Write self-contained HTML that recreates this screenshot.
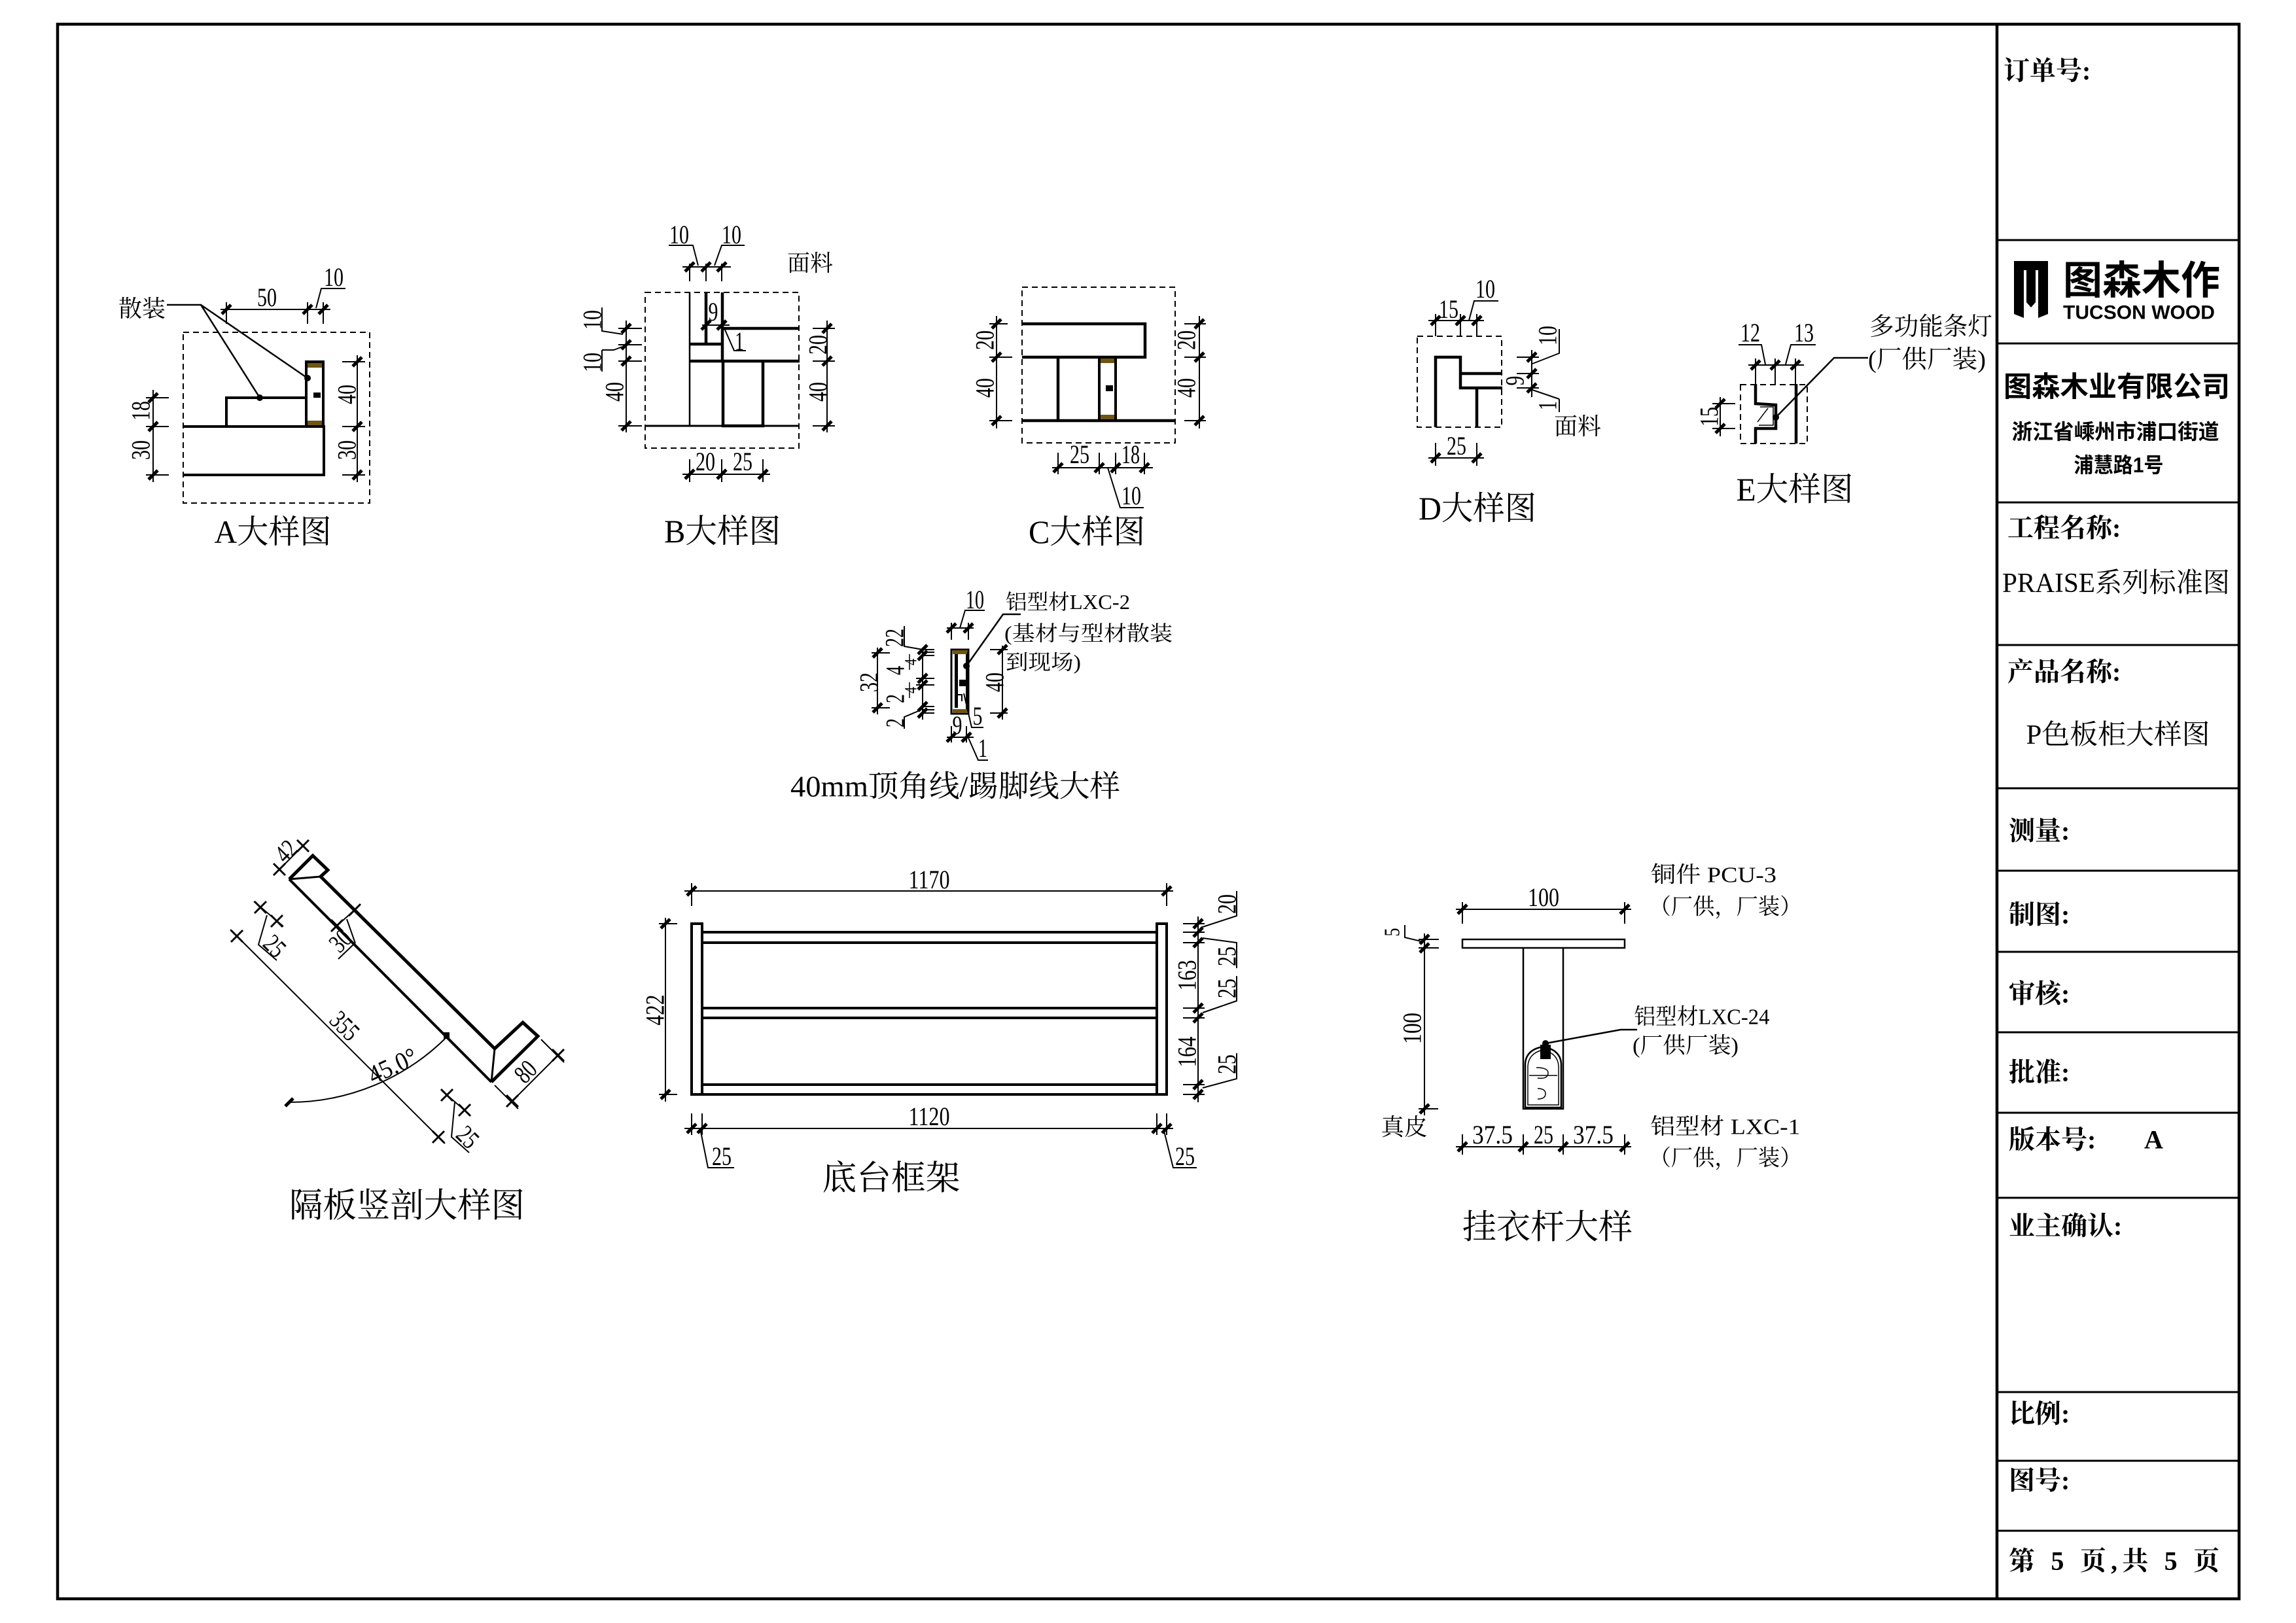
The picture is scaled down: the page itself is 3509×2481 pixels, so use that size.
<!DOCTYPE html>
<html><head><meta charset="utf-8"><style>
html,body{margin:0;padding:0;background:#fff}
svg{display:block}
text{font-family:"Liberation Serif","Noto Serif CJK SC",serif;fill:#000}
.n{font-size:40px}
.s{font-size:34px}
.t{font-size:50px}
.tb{font-family:"Liberation Serif","Noto Serif CJK SC",serif;font-weight:700;font-size:40px}
.hs{font-family:"Liberation Sans","Noto Sans CJK SC",sans-serif;font-weight:700}
</style></head><body>
<svg width="3509" height="2481" viewBox="0 0 3509 2481" xmlns="http://www.w3.org/2000/svg">
<defs>
<path id="tk" d="M-7 7L7-7" stroke="#000" stroke-width="5"/>
<path id="tx" d="M-9-9L9 9M-9 9L9-9" stroke="#000" stroke-width="3"/>
</defs>
<rect width="3509" height="2481" fill="#fff"/>

<!-- ===== Frame & title block ===== -->
<g fill="none" stroke="#000">
<rect x="88" y="37" width="3334" height="2407" stroke-width="4.5"/>
<path d="M3052 37V2444" stroke-width="4.5"/>
<path d="M3052 367H3422M3052 525H3422M3052 768H3422M3052 986H3422M3052 1205H3422M3052 1331H3422M3052 1455H3422M3052 1578H3422M3052 1701H3422M3052 1831H3422M3052 2128H3422M3052 2233H3422M3052 2340H3422" stroke-width="3"/>
</g>
<g dominant-baseline="central">
<text class="tb" x="3062" y="108">订单号:</text>
<!-- logo -->
<rect x="3078" y="399" width="52" height="14" fill="#000"/>
<path d="M3078 413H3093V486L3078 480Z" fill="#000"/>
<path d="M3115 413H3130V480L3115 486Z" fill="#000"/>
<path d="M3097 413H3111V462L3104 470L3097 462Z" fill="#000"/>
<text x="3153" y="429" class="hs" font-size="60" font-weight="900" textLength="240" lengthAdjust="spacingAndGlyphs">图森木作</text>
<text x="3153" y="478" class="hs" font-size="30" textLength="232" lengthAdjust="spacingAndGlyphs">TUCSON WOOD</text>
<text x="3235" y="592" class="hs" font-size="43" text-anchor="middle" textLength="346" lengthAdjust="spacingAndGlyphs">图森木业有限公司</text>
<text x="3233" y="660" class="hs" font-size="32" text-anchor="middle" textLength="317" lengthAdjust="spacingAndGlyphs">浙江省嵊州市浦口街道</text>
<text x="3238" y="711" class="hs" font-size="32" text-anchor="middle" textLength="137" lengthAdjust="spacingAndGlyphs">浦慧路1号</text>
<text class="tb" x="3068" y="807">工程名称:</text>
<text x="3234" y="892" font-size="42" text-anchor="middle" textLength="348" lengthAdjust="spacingAndGlyphs">PRAISE系列标准图</text>
<text class="tb" x="3068" y="1027">产品名称:</text>
<text x="3237" y="1124" font-size="42" text-anchor="middle" textLength="281" lengthAdjust="spacingAndGlyphs">P色板柜大样图</text>
<text class="tb" x="3070" y="1270">测量:</text>
<text class="tb" x="3070" y="1398">制图:</text>
<text class="tb" x="3070" y="1519">审核:</text>
<text class="tb" x="3070" y="1639">批准:</text>
<text class="tb" x="3070" y="1742">版本号:</text>
<text class="tb" x="3277" y="1742">A</text>
<text class="tb" x="3070" y="1874">业主确认:</text>
<text class="tb" x="3070" y="2161">比例:</text>
<text class="tb" x="3070" y="2263">图号:</text>
<text class="tb" x="3070" y="2386" textLength="322" lengthAdjust="spacing">第 5 页,共 5 页</text>
</g>

<!-- ===== A detail ===== -->
<g fill="none" stroke="#000">
<rect x="280" y="508" width="285" height="261" stroke-width="2" stroke-dasharray="9 6"/>
<path d="M281 652H495V726H281" stroke-width="4"/>
<path d="M346 652V608H468" stroke-width="4"/>
<rect x="468" y="553" width="26" height="99" stroke-width="4" fill="#fff"/>
<path d="M255 466H307L397 608M307 466L470 578" stroke-width="2.5"/>
<g stroke-width="2">
<path d="M337 473H505M346 462V495M470 462V495M494 462V495"/>
<path d="M483 471L491 441H528"/>
<path d="M234 596V737M223 608H258M223 652H258M223 726H258"/>
<path d="M546 543V737M523 553H558M523 652H558M523 726H558"/>
</g>
</g>
<rect x="470" y="555" width="22" height="7" fill="#6e5512"/>
<rect x="470" y="643" width="22" height="7" fill="#6e5512"/>
<rect x="479" y="600" width="11" height="8" fill="#000"/>
<circle cx="397" cy="608" r="5"/><circle cx="470" cy="578" r="5"/>
<use href="#tk" x="346" y="473"/><use href="#tk" x="470" y="473"/><use href="#tk" x="494" y="473"/>
<use href="#tk" x="234" y="608"/><use href="#tk" x="234" y="652"/><use href="#tk" x="234" y="726"/>
<use href="#tk" x="546" y="553"/><use href="#tk" x="546" y="652"/><use href="#tk" x="546" y="726"/>
<text x="217" y="472" font-size="36" text-anchor="middle" dominant-baseline="central">散装</text>
<text class="n" x="408" y="468" text-anchor="middle" textLength="30" lengthAdjust="spacingAndGlyphs">50</text>
<text class="n" x="510" y="437" text-anchor="middle" textLength="30" lengthAdjust="spacingAndGlyphs">10</text>
<g class="n" text-anchor="middle" dominant-baseline="central">
<text transform="translate(215 628) rotate(-90)" textLength="30" lengthAdjust="spacingAndGlyphs">18</text>
<text transform="translate(215 688) rotate(-90)" textLength="30" lengthAdjust="spacingAndGlyphs">30</text>
<text transform="translate(530 603) rotate(-90)" textLength="30" lengthAdjust="spacingAndGlyphs">40</text>
<text transform="translate(530 688) rotate(-90)" textLength="30" lengthAdjust="spacingAndGlyphs">30</text>
</g>
<text class="t" x="417" y="813" text-anchor="middle" dominant-baseline="central" textLength="179" lengthAdjust="spacingAndGlyphs">A大样图</text>

<!-- ===== B detail ===== -->
<g fill="none" stroke="#000">
<rect x="986" y="447" width="235" height="238" stroke-width="2" stroke-dasharray="9 6"/>
<path d="M1105 502H1222M1054 552H1222" stroke-width="4.5"/>
<path d="M1079 447V526M1104 447V552M1054 526H1104" stroke-width="4.5"/>
<path d="M986 651H1222" stroke-width="3"/>
<path d="M1054 447V651" stroke-width="2.5"/>
<path d="M1105 552V651H1166V552" stroke-width="4.5"/>
<g stroke-width="2">
<path d="M1043 408H1117M1054 403V430M1079 403V430M1103 403V430"/>
<path d="M1022 375H1059L1067 406M1138 375H1103L1092 406"/>
<path d="M1073 497H1115"/>
<path d="M1107 502L1122 536H1140"/>
<path d="M957 490V661M945 502H981M945 527H981M945 552H981M945 651H981"/>
<path d="M920 470V506L952 511M920 535V568M920 535H938L954 529"/>
<path d="M1264 490V661M1242 502H1276M1242 552H1276M1242 651H1276"/>
<path d="M1043 725H1177M1054 702V737M1103 702V737M1166 702V737"/>
</g>
</g>
<use href="#tk" x="1054" y="408"/><use href="#tk" x="1079" y="408"/><use href="#tk" x="1103" y="408"/>
<use href="#tk" x="1079" y="497"/><use href="#tk" x="1103" y="497"/>
<use href="#tk" x="957" y="502"/><use href="#tk" x="957" y="527"/><use href="#tk" x="957" y="552"/><use href="#tk" x="957" y="651"/>
<use href="#tk" x="1264" y="502"/><use href="#tk" x="1264" y="552"/><use href="#tk" x="1264" y="651"/>
<use href="#tk" x="1054" y="725"/><use href="#tk" x="1103" y="725"/><use href="#tk" x="1166" y="725"/>
<g class="n" text-anchor="middle">
<text x="1038" y="372" textLength="30" lengthAdjust="spacingAndGlyphs">10</text>
<text x="1118" y="372" textLength="30" lengthAdjust="spacingAndGlyphs">10</text>
<text x="1090" y="490" textLength="15" lengthAdjust="spacingAndGlyphs">9</text>
<text x="1130" y="535" textLength="14" lengthAdjust="spacingAndGlyphs">1</text>
<text x="1078" y="719" textLength="30" lengthAdjust="spacingAndGlyphs">20</text>
<text x="1135" y="719" textLength="30" lengthAdjust="spacingAndGlyphs">25</text>
</g>
<g class="n" text-anchor="middle" dominant-baseline="central">
<text transform="translate(939 599) rotate(-90)" textLength="30" lengthAdjust="spacingAndGlyphs">40</text>
<text transform="translate(905 489) rotate(-90)" textLength="30" lengthAdjust="spacingAndGlyphs">10</text>
<text transform="translate(905 554) rotate(-90)" textLength="30" lengthAdjust="spacingAndGlyphs">10</text>
<text transform="translate(1250 527) rotate(-90)" textLength="30" lengthAdjust="spacingAndGlyphs">20</text>
<text transform="translate(1250 599) rotate(-90)" textLength="30" lengthAdjust="spacingAndGlyphs">40</text>
</g>
<text x="1238" y="403" font-size="35" text-anchor="middle" dominant-baseline="central">面料</text>
<text class="t" x="1104" y="812" text-anchor="middle" dominant-baseline="central" textLength="178" lengthAdjust="spacingAndGlyphs">B大样图</text>

<!-- ===== C detail ===== -->
<g fill="none" stroke="#000">
<rect x="1562" y="439" width="234" height="238" stroke-width="2" stroke-dasharray="9 6"/>
<path d="M1562 495H1750V546H1562" stroke-width="4.5"/>
<path d="M1562 643H1797" stroke-width="4.5"/>
<path d="M1617 546V643" stroke-width="4.5"/>
<rect x="1680" y="546" width="25" height="97" stroke-width="4" fill="#fff"/>
<g stroke-width="2">
<path d="M1523 483V655M1512 495H1540M1512 546H1547M1512 643H1547"/>
<path d="M1833 483V655M1810 495H1843M1810 546H1843M1810 643H1843"/>
<path d="M1608 715H1762M1617 692V725M1680 692V725M1705 692V725M1749 692V725"/>
<path d="M1693 715L1712 776H1748"/>
</g>
</g>
<rect x="1682" y="548" width="21" height="7" fill="#6e5512"/>
<rect x="1682" y="634" width="21" height="7" fill="#6e5512"/>
<rect x="1690" y="589" width="11" height="9" fill="#000"/>
<use href="#tk" x="1523" y="495"/><use href="#tk" x="1523" y="546"/><use href="#tk" x="1523" y="643"/>
<use href="#tk" x="1833" y="495"/><use href="#tk" x="1833" y="546"/><use href="#tk" x="1833" y="643"/>
<use href="#tk" x="1617" y="715"/><use href="#tk" x="1680" y="715"/><use href="#tk" x="1705" y="715"/><use href="#tk" x="1749" y="715"/>
<g class="n" text-anchor="middle">
<text x="1650" y="708" textLength="30" lengthAdjust="spacingAndGlyphs">25</text>
<text x="1728" y="708" textLength="28" lengthAdjust="spacingAndGlyphs">18</text>
<text x="1729" y="771" textLength="30" lengthAdjust="spacingAndGlyphs">10</text>
</g>
<g class="n" text-anchor="middle" dominant-baseline="central">
<text transform="translate(1505 520) rotate(-90)" textLength="30" lengthAdjust="spacingAndGlyphs">20</text>
<text transform="translate(1505 593) rotate(-90)" textLength="30" lengthAdjust="spacingAndGlyphs">40</text>
<text transform="translate(1813 520) rotate(-90)" textLength="30" lengthAdjust="spacingAndGlyphs">20</text>
<text transform="translate(1813 593) rotate(-90)" textLength="30" lengthAdjust="spacingAndGlyphs">40</text>
</g>
<text class="t" x="1661" y="813" text-anchor="middle" dominant-baseline="central" textLength="178" lengthAdjust="spacingAndGlyphs">C大样图</text>

<!-- ===== D detail ===== -->
<g fill="none" stroke="#000">
<rect x="2166" y="514" width="129" height="139" stroke-width="2" stroke-dasharray="9 6"/>
<path d="M2194 653V546H2232V593H2296M2232 571H2296M2257 593V653" stroke-width="4.5"/>
<g stroke-width="2">
<path d="M2183 490H2268M2194 480V514M2232 480V514M2257 480V514"/>
<path d="M2245 490L2253 460H2290"/>
<path d="M2341 535V607M2318 546H2352M2318 571H2352M2318 593H2352"/>
<path d="M2383 503V540L2342 556M2383 610V630M2383 610L2342 596"/>
<path d="M2183 700H2268M2194 677V712M2257 677V712"/>
</g>
</g>
<use href="#tk" x="2194" y="490"/><use href="#tk" x="2232" y="490"/><use href="#tk" x="2257" y="490"/>
<use href="#tk" x="2341" y="546"/><use href="#tk" x="2341" y="571"/><use href="#tk" x="2341" y="593"/>
<use href="#tk" x="2194" y="700"/><use href="#tk" x="2257" y="700"/>
<g class="n" text-anchor="middle">
<text x="2214" y="486" textLength="30" lengthAdjust="spacingAndGlyphs">15</text>
<text x="2270" y="455" textLength="30" lengthAdjust="spacingAndGlyphs">10</text>
<text x="2226" y="695" textLength="30" lengthAdjust="spacingAndGlyphs">25</text>
</g>
<g class="n" text-anchor="middle" dominant-baseline="central">
<text transform="translate(2315 582) rotate(-90)" textLength="15" lengthAdjust="spacingAndGlyphs">9</text>
<text transform="translate(2365 513) rotate(-90)" textLength="30" lengthAdjust="spacingAndGlyphs">10</text>
<text transform="translate(2365 620) rotate(-90)" textLength="14" lengthAdjust="spacingAndGlyphs">1</text>
</g>
<text x="2411" y="652" font-size="36" text-anchor="middle" dominant-baseline="central">面料</text>
<text class="t" x="2258" y="777" text-anchor="middle" dominant-baseline="central" textLength="180" lengthAdjust="spacingAndGlyphs">D大样图</text>

<!-- ===== E detail ===== -->
<g fill="none" stroke="#000">
<rect x="2660" y="588" width="102" height="90" stroke-width="2" stroke-dasharray="9 6"/>
<path d="M2683 587V617L2714 619V655H2683V678" stroke-width="4.5"/>
<path d="M2745 587V678" stroke-width="4.5"/>
<path d="M2690 622H2710V650H2688M2686 645L2702 624" stroke-width="1.5"/>
<path d="M2714 638L2803 547H2855" stroke-width="2.5"/>
<g stroke-width="2">
<path d="M2672 558H2757M2683 548V587M2713 548V587M2744 548V587"/>
<path d="M2657 527H2692L2698 557M2775 527H2737L2729 557"/>
<path d="M2629 607V667M2617 617H2652M2617 655H2652"/>
</g>
</g>
<circle cx="2714" cy="638" r="5"/>
<use href="#tk" x="2683" y="558"/><use href="#tk" x="2713" y="558"/><use href="#tk" x="2744" y="558"/>
<use href="#tk" x="2629" y="617"/><use href="#tk" x="2629" y="655"/>
<g class="n" text-anchor="middle">
<text x="2675" y="522" textLength="30" lengthAdjust="spacingAndGlyphs">12</text>
<text x="2757" y="522" textLength="30" lengthAdjust="spacingAndGlyphs">13</text>
</g>
<text class="n" transform="translate(2612 637) rotate(-90)" text-anchor="middle" dominant-baseline="central" textLength="30" lengthAdjust="spacingAndGlyphs">15</text>
<text x="2951" y="500" font-size="38" text-anchor="middle" dominant-baseline="central" textLength="188" lengthAdjust="spacingAndGlyphs">多功能条灯</text>
<text x="2945" y="550" font-size="38" text-anchor="middle" dominant-baseline="central" textLength="180" lengthAdjust="spacingAndGlyphs">(厂供厂装)</text>
<text class="t" x="2743" y="748" text-anchor="middle" dominant-baseline="central" textLength="179" lengthAdjust="spacingAndGlyphs">E大样图</text>

<!-- ===== 40mm detail ===== -->
<g fill="none" stroke="#000">
<rect x="1454" y="993" width="26" height="98" stroke-width="3"/>
<path d="M1478 996V1088" stroke-width="4"/>
<path d="M1462 1062H1470V1072" stroke-width="2"/>
<path d="M1477 1018L1533 939H1560" stroke-width="2.5"/>
<g stroke-width="2">
<path d="M1447 960H1488M1454 952V978M1480 952V978"/>
<path d="M1467 960L1475 933H1505"/>
<path d="M1532 987V1100M1513 993H1540M1513 1090H1540"/>
<path d="M1447 1127H1488M1454 1110V1135M1477 1110V1135"/>
<path d="M1480 1128L1495 1162H1510"/>
<path d="M1473 1060L1485 1112H1503"/>
<path d="M1341 990V1092M1332 998H1360M1332 1082H1360"/>
<path d="M1410 990V1100M1410 993H1428M1410 997H1428M1410 1002H1428M1400 1037H1428M1400 1047H1428M1410 1080H1428M1410 1085H1428M1410 1090H1428"/>
<path d="M1382 957V988L1410 993M1382 1114V1096L1408 1085"/>
<path d="M1390 1000V1024M1390 1043V1067" stroke-width="1.5"/>
</g>
</g>
<rect x="1459" y="996" width="5" height="86" fill="#000"/>
<rect x="1456" y="994" width="22" height="6" fill="#6e5512"/>
<rect x="1456" y="1084" width="22" height="6" fill="#6e5512"/>
<rect x="1466" y="1039" width="12" height="10" fill="#000"/>
<circle cx="1477" cy="1018" r="5"/>
<use href="#tk" x="1454" y="960"/><use href="#tk" x="1480" y="960"/>
<use href="#tk" x="1532" y="993"/><use href="#tk" x="1532" y="1090"/>
<use href="#tk" x="1454" y="1127"/><use href="#tk" x="1477" y="1127"/>
<use href="#tk" x="1341" y="998"/><use href="#tk" x="1341" y="1082"/>
<use href="#tk" x="1410" y="993"/><use href="#tk" x="1410" y="1002"/><use href="#tk" x="1410" y="1037"/><use href="#tk" x="1410" y="1047"/><use href="#tk" x="1410" y="1080"/><use href="#tk" x="1410" y="1090"/>
<g class="n" text-anchor="middle">
<text x="1490" y="930" textLength="28" lengthAdjust="spacingAndGlyphs">10</text>
<text x="1463" y="1122" textLength="15" lengthAdjust="spacingAndGlyphs">9</text>
<text x="1502" y="1157" textLength="14" lengthAdjust="spacingAndGlyphs">1</text>
<text x="1494" y="1108" textLength="15" lengthAdjust="spacingAndGlyphs">5</text>
</g>
<g class="n" text-anchor="middle" dominant-baseline="central">
<text transform="translate(1520 1043) rotate(-90)" textLength="30" lengthAdjust="spacingAndGlyphs">40</text>
<text transform="translate(1328 1043) rotate(-90)" textLength="30" lengthAdjust="spacingAndGlyphs">32</text>
<text transform="translate(1367 975) rotate(-90)" textLength="28" lengthAdjust="spacingAndGlyphs">22</text>
<text transform="translate(1368 1025) rotate(-90)" textLength="14" lengthAdjust="spacingAndGlyphs">4</text>
<text transform="translate(1368 1068) rotate(-90)" textLength="14" lengthAdjust="spacingAndGlyphs">2</text>
<text transform="translate(1368 1105) rotate(-90)" textLength="14" lengthAdjust="spacingAndGlyphs">2</text>
<text transform="translate(1392 1012) rotate(-90)" font-size="26" textLength="10" lengthAdjust="spacingAndGlyphs">4</text>
<text transform="translate(1392 1055) rotate(-90)" font-size="26" textLength="10" lengthAdjust="spacingAndGlyphs">4</text>
</g>
<g font-size="32" dominant-baseline="central">
<text x="1537" y="920" textLength="190" lengthAdjust="spacingAndGlyphs">铝型材LXC-2</text>
<text x="1535" y="968" textLength="257" lengthAdjust="spacingAndGlyphs">(基材与型材散装</text>
<text x="1537" y="1012" textLength="115" lengthAdjust="spacingAndGlyphs">到现场)</text>
</g>
<text x="1460" y="1202" font-size="46" text-anchor="middle" dominant-baseline="central" textLength="504" lengthAdjust="spacingAndGlyphs">40mm顶角线/踢脚线大样</text>

<!-- ===== 隔板竖剖 ===== -->
<g fill="none" stroke="#000">
<path d="M442 1344L478 1308L501 1330L490 1340L756 1603L799 1563L822 1584L751 1654" stroke-width="5" stroke-linejoin="miter"/>
<path d="M442 1344L751 1654" stroke-width="4"/>
<path d="M442 1344L490 1340M756 1603L751 1654" stroke-width="3"/>
<g stroke-width="2">
<path d="M427 1329L463 1293"/>
<path d="M515 1415L542 1391M530 1405L543 1442M517 1466L542 1442"/>
<path d="M388 1378L433 1416M408 1399L395 1444L423 1468"/>
<path d="M352 1421L680 1748"/>
<path d="M683 1585A341 341 0 0 1 442 1685"/>
<path d="M756 1659L792 1695M827 1589L862 1624M776 1690L860 1606"/>
<path d="M675 1667L718 1704M695 1685L690 1738L717 1762"/>
</g>
</g>
<use href="#tx" x="427" y="1329"/><use href="#tx" x="463" y="1293"/>
<use href="#tx" x="515" y="1415"/><use href="#tx" x="542" y="1391"/>
<use href="#tx" x="398" y="1387"/><use href="#tx" x="423" y="1408"/>
<use href="#tx" x="362" y="1431"/><use href="#tx" x="670" y="1738"/>
<use href="#tx" x="783" y="1683"/><use href="#tx" x="853" y="1613"/>
<use href="#tx" x="683" y="1674"/><use href="#tx" x="710" y="1697"/>
<rect x="678" y="1578" width="9" height="10" fill="#000"/>
<path d="M436 1691L448 1679" stroke="#000" stroke-width="5"/>
<g class="n" text-anchor="middle" dominant-baseline="central">
<text transform="translate(437 1301) rotate(-45)" textLength="30" lengthAdjust="spacingAndGlyphs">42</text>
<text transform="translate(520 1438) rotate(-45)" textLength="30" lengthAdjust="spacingAndGlyphs">30</text>
<text transform="translate(420 1446) rotate(45)" textLength="30" lengthAdjust="spacingAndGlyphs">25</text>
<text transform="translate(527 1568) rotate(45)" textLength="45" lengthAdjust="spacingAndGlyphs">355</text>
<text transform="translate(600 1629) rotate(-25)" textLength="78" lengthAdjust="spacingAndGlyphs">45.0°</text>
<text transform="translate(803 1638) rotate(-45)" textLength="30" lengthAdjust="spacingAndGlyphs">80</text>
<text transform="translate(715 1738) rotate(45)" textLength="30" lengthAdjust="spacingAndGlyphs">25</text>
</g>
<text x="622" y="1844" font-size="52" text-anchor="middle" dominant-baseline="central" textLength="360" lengthAdjust="spacingAndGlyphs">隔板竖剖大样图</text>

<!-- ===== 底台框架 ===== -->
<g fill="none" stroke="#000">
<rect x="1057" y="1412" width="16" height="261" stroke-width="4"/>
<rect x="1768" y="1412" width="15" height="261" stroke-width="4"/>
<path d="M1073 1425H1768M1073 1441H1768M1073 1541H1768M1073 1556H1768M1073 1658H1768M1057 1673H1783" stroke-width="4"/>
<g stroke-width="2">
<path d="M1046 1362H1793M1057 1350V1385M1783 1350V1385"/>
<path d="M1046 1725H1793M1057 1702V1735M1073 1702V1735M1768 1702V1735M1783 1702V1735"/>
<path d="M1070 1725L1082 1785H1122M1778 1725L1793 1785H1829"/>
<path d="M1017 1403V1684M1007 1412H1035M1007 1673H1035"/>
<path d="M1831 1401V1685M1808 1412H1841M1808 1425H1841M1808 1441H1841M1808 1541H1841M1808 1556H1841M1808 1658H1841M1808 1673H1841"/>
<path d="M1890 1362V1400L1835 1418M1890 1480V1441L1838 1434M1890 1492V1530L1838 1548M1890 1610V1649L1838 1663"/>
</g>
</g>
<use href="#tk" x="1057" y="1362"/><use href="#tk" x="1783" y="1362"/>
<use href="#tk" x="1057" y="1725"/><use href="#tk" x="1073" y="1725"/><use href="#tk" x="1768" y="1725"/><use href="#tk" x="1783" y="1725"/>
<use href="#tk" x="1017" y="1412"/><use href="#tk" x="1017" y="1673"/>
<use href="#tk" x="1831" y="1412"/><use href="#tk" x="1831" y="1425"/><use href="#tk" x="1831" y="1441"/><use href="#tk" x="1831" y="1541"/><use href="#tk" x="1831" y="1556"/><use href="#tk" x="1831" y="1658"/><use href="#tk" x="1831" y="1673"/>
<g class="n" text-anchor="middle">
<text x="1420" y="1358" textLength="63" lengthAdjust="spacingAndGlyphs">1170</text>
<text x="1420" y="1720" textLength="63" lengthAdjust="spacingAndGlyphs">1120</text>
<text x="1103" y="1781" textLength="30" lengthAdjust="spacingAndGlyphs">25</text>
<text x="1811" y="1781" textLength="30" lengthAdjust="spacingAndGlyphs">25</text>
</g>
<g class="n" text-anchor="middle" dominant-baseline="central">
<text transform="translate(1001 1544) rotate(-90)" textLength="47" lengthAdjust="spacingAndGlyphs">422</text>
<text transform="translate(1814 1491) rotate(-90)" textLength="47" lengthAdjust="spacingAndGlyphs">163</text>
<text transform="translate(1814 1608) rotate(-90)" textLength="47" lengthAdjust="spacingAndGlyphs">164</text>
<text transform="translate(1875 1382) rotate(-90)" textLength="30" lengthAdjust="spacingAndGlyphs">20</text>
<text transform="translate(1875 1462) rotate(-90)" textLength="30" lengthAdjust="spacingAndGlyphs">25</text>
<text transform="translate(1875 1511) rotate(-90)" textLength="30" lengthAdjust="spacingAndGlyphs">25</text>
<text transform="translate(1875 1627) rotate(-90)" textLength="30" lengthAdjust="spacingAndGlyphs">25</text>
</g>
<text x="1362" y="1802" font-size="52" text-anchor="middle" dominant-baseline="central" textLength="211" lengthAdjust="spacingAndGlyphs">底台框架</text>

<!-- ===== 挂衣杆 ===== -->
<g fill="none" stroke="#000">
<rect x="2235" y="1436" width="248" height="13" stroke-width="2.5"/>
<path d="M2328 1449V1695H2389V1449" stroke-width="2.5"/>
<path d="M2331 1693V1628Q2331 1605 2358 1600Q2386 1605 2386 1628V1693Z" stroke-width="2.5"/>
<path d="M2335 1689V1630Q2336 1610 2358 1605Q2381 1610 2382 1630V1689Z" stroke-width="1.5"/>
<path d="M2337 1644H2380M2348 1632Q2366 1632 2366 1640Q2366 1650 2350 1648M2350 1664Q2362 1664 2362 1672Q2362 1680 2350 1680" stroke-width="1.5"/>
<path d="M2362 1595L2477 1574H2502" stroke-width="2.5"/>
<g stroke-width="2">
<path d="M2225 1390H2493M2235 1379V1412M2483 1379V1412"/>
<path d="M2177 1427V1705M2168 1436H2199M2168 1449H2199M2168 1695H2198"/>
<path d="M2147 1414V1433L2172 1439"/>
<path d="M2225 1753H2493M2235 1734V1765M2328 1734V1765M2389 1734V1765M2483 1734V1765"/>
</g>
</g>
<rect x="2354" y="1597" width="16" height="22" fill="#000"/>
<circle cx="2362" cy="1595" r="5"/>
<use href="#tk" x="2235" y="1390"/><use href="#tk" x="2483" y="1390"/>
<use href="#tk" x="2177" y="1436"/><use href="#tk" x="2177" y="1449"/><use href="#tk" x="2177" y="1695"/>
<use href="#tk" x="2235" y="1753"/><use href="#tk" x="2328" y="1753"/><use href="#tk" x="2389" y="1753"/><use href="#tk" x="2483" y="1753"/>
<g class="n" text-anchor="middle">
<text x="2359" y="1385" textLength="48" lengthAdjust="spacingAndGlyphs">100</text>
<text x="2281" y="1748" textLength="62" lengthAdjust="spacingAndGlyphs">37.5</text>
<text x="2359" y="1748" textLength="30" lengthAdjust="spacingAndGlyphs">25</text>
<text x="2435" y="1748" textLength="62" lengthAdjust="spacingAndGlyphs">37.5</text>
</g>
<g class="n" text-anchor="middle" dominant-baseline="central">
<text transform="translate(2128 1425) rotate(-90)" font-size="34" textLength="13" lengthAdjust="spacingAndGlyphs">5</text>
<text transform="translate(2158 1572) rotate(-90)" textLength="48" lengthAdjust="spacingAndGlyphs">100</text>
</g>
<g font-size="34" text-anchor="middle" dominant-baseline="central">
<text x="2619" y="1338" textLength="192" lengthAdjust="spacingAndGlyphs">铜件 PCU-3</text>
<text x="2637" y="1387" textLength="233" lengthAdjust="spacingAndGlyphs">（厂供，厂装）</text>
<text x="2601" y="1555" textLength="207" lengthAdjust="spacingAndGlyphs">铝型材LXC-24</text>
<text x="2576" y="1599" textLength="162" lengthAdjust="spacingAndGlyphs">(厂供厂装)</text>
<text x="2146" y="1723" font-size="36" textLength="71" lengthAdjust="spacingAndGlyphs">真皮</text>
<text x="2637" y="1723" textLength="229" lengthAdjust="spacingAndGlyphs">铝型材 LXC-1</text>
<text x="2637" y="1771" textLength="233" lengthAdjust="spacingAndGlyphs">（厂供，厂装）</text>
</g>
<text x="2365" y="1877" font-size="52" text-anchor="middle" dominant-baseline="central" textLength="260" lengthAdjust="spacingAndGlyphs">挂衣杆大样</text>
</svg>
</body></html>
